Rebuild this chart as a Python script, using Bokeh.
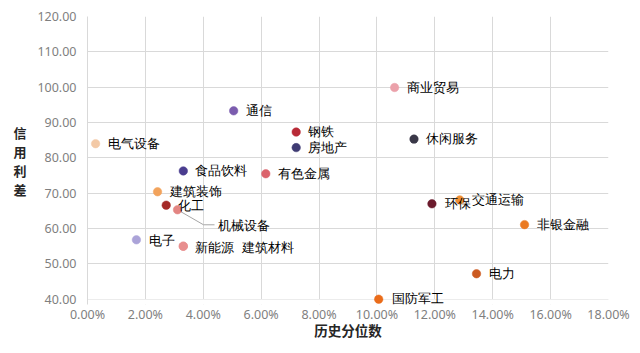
from bokeh.plotting import figure
from bokeh.models import (ColumnDataSource, LabelSet, Range1d, FixedTicker,
                          NumeralTickFormatter, BoxAnnotation)
from bokeh.embed import file_html
from bokeh.resources import INLINE

# ---------------- data ----------------
sectors = ["电气设备", "通信", "钢铁", "房地产", "食品饮料", "有色金属", "商业贸易",
           "休闲服务", "建筑装饰", "化工", "机械设备", "电子", "新能源", "建筑材料",
           "环保", "交通运输", "非银金融", "电力", "国防军工"]
hist_pct = [0.28, 5.05, 7.21, 7.21, 3.31, 6.16, 10.61,
            11.28, 2.42, 2.72, 3.11, 1.69, 3.31, 3.31,
            11.90, 12.86, 15.10, 13.44, 10.06]          # historical percentile, %
credit_spread = [84.0, 93.3, 87.3, 82.9, 76.3, 75.5, 99.9,
                 85.3, 70.4, 66.6, 65.3, 56.8, 55.0, 55.0,
                 67.0, 68.1, 61.1, 47.2, 40.0]
x_ticks = [0.00, 0.02, 0.04, 0.06, 0.08, 0.10, 0.12, 0.14, 0.16, 0.18]
y_ticks = [40, 50, 60, 70, 80, 90, 100, 110, 120]

# ---------------- styles ----------------
colors = ["#f3c9a6", "#7b5cae", "#b82a37", "#3f3b73", "#4a3d8f", "#db636c", "#eba1aa",
          "#3a3848", "#f2a35c", "#a52a28", "#e38582", "#aba3d8", "#e88e8e", "#e88e8e",
          "#6b1a2c", "#ee8f34", "#ea7a22", "#cc5a20", "#ea6c1a"]
label_dx = [12, 12, 12, 12, 12, 12, 12,
            12, 12, 12, 40, 13, 12, 59,
            13, 12, 12, 12, 13]
label_dy = [0, 0, 0, 0, 0, 0, 0,
            0, 0, -1, -16, -1, -2, -2,
            0, 0, 0, 0, 0]

W, H = 640, 353
BL, BR, BT, BB = 87, 32, 16, 49
x0, x1 = 0.0, 0.18
y0, y1 = 38.5, 120.0

p = figure(width=W, height=H, output_backend="svg", toolbar_location=None,
           x_range=Range1d(x0, x1), y_range=Range1d(y0, y1),
           min_border_left=BL, min_border_right=BR, min_border_top=BT,
           min_border_bottom=BB, background_fill_color="white",
           border_fill_color="white")
p.outline_line_color = None

grid_color = "#d9d9d9"
p.xgrid.ticker = FixedTicker(ticks=x_ticks)
p.ygrid.ticker = FixedTicker(ticks=y_ticks)
p.grid.grid_line_color = grid_color
p.grid.grid_line_width = 1

# cover grid stubs below the 40 baseline
p.add_layout(BoxAnnotation(top=y_ticks[0] - 0.12, fill_color="white", fill_alpha=1,
                           line_color=None, level="underlay"))

p.xaxis.ticker = FixedTicker(ticks=x_ticks)
p.yaxis.ticker = FixedTicker(ticks=y_ticks)
p.xaxis.formatter = NumeralTickFormatter(format="0.00%")
p.yaxis.formatter = NumeralTickFormatter(format="0.00")
for ax in (p.xaxis, p.yaxis):
    ax.major_tick_line_color = None
    ax.minor_tick_line_color = None
    ax.major_tick_out = 0
    ax.major_label_text_font = "Noto Sans"
    ax.major_label_text_font_size = "12.5px"
    ax.major_label_text_color = "#7f7f7f"
    ax.axis_label_text_font = "Noto Sans CJK SC"
    ax.axis_label_text_font_style = "bold"
    ax.axis_label_text_color = "#262626"
p.xaxis.axis_line_color = None
p.yaxis.axis_line_color = grid_color
p.xaxis.major_label_standoff = 1
p.yaxis.major_label_standoff = 11

p.xaxis.axis_label = "历史分位数"
p.xaxis.axis_label_text_font_size = "13.5px"
p.xaxis.axis_label_standoff = -6

p.yaxis.axis_label = "信\n用\n利\n差"
p.yaxis.axis_label_text_font_size = "13px"
p.yaxis.axis_label_text_line_height = 1.0
p.yaxis.axis_label_standoff = 8
p.yaxis.axis_label_orientation = "horizontal"

src = ColumnDataSource(dict(
    x=[v / 100 for v in hist_pct], y=credit_spread, name=sectors,
    color=colors, dx=label_dx, dy=label_dy))

# leader line for 机械设备 label
frame_w = W - BL - BR
frame_h = H - BT - BB
sx = (x1 - x0) / frame_w
sy = (y1 - y0) / frame_h
i = sectors.index("机械设备")
px, py = hist_pct[i] / 100, credit_spread[i]
p.line([px, px + 26 * sx, px + 37 * sx], [py, py - 15 * sy, py - 15 * sy],
       line_color="#a6a6a6", line_width=1)

p.scatter("x", "y", source=src, size=8.5, fill_color="color", line_color="color",
          line_width=0.5)

labels = LabelSet(x="x", y="y", text="name", source=src, x_offset="dx", y_offset="dy",
                  text_baseline="middle", text_align="left",
                  text_font="Noto Sans CJK SC", text_font_size="12.5px",
                  text_color="#000000")
p.add_layout(labels)

open("out.html", "w").write(file_html(p, INLINE))
